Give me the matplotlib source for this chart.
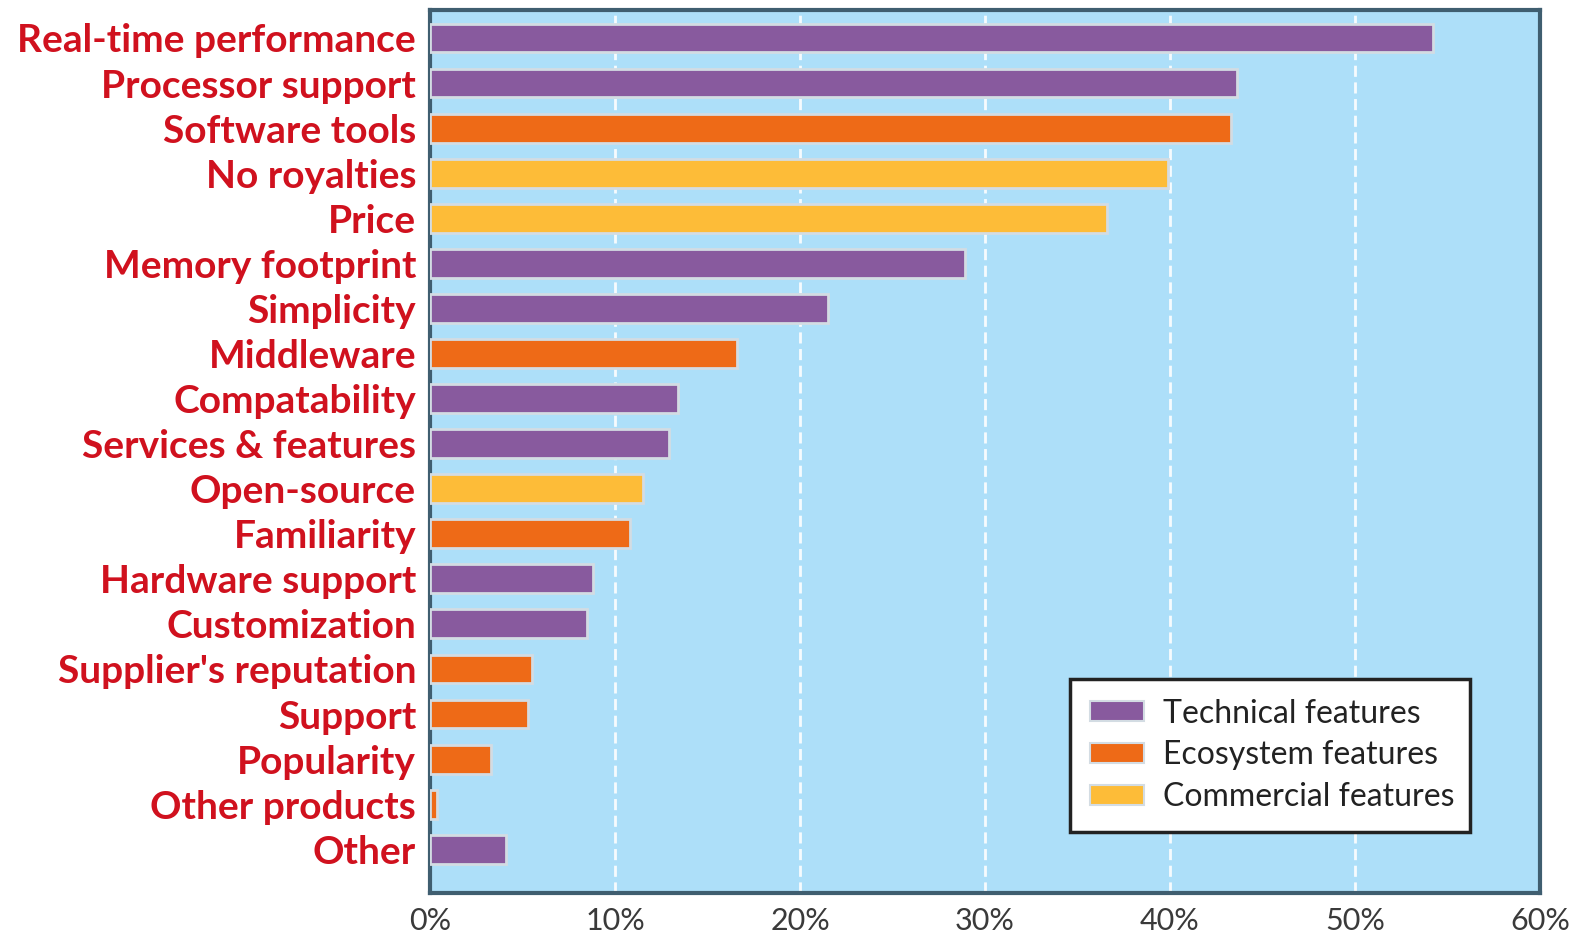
import matplotlib
matplotlib.use("Agg")
import matplotlib.pyplot as plt
from matplotlib.patches import Patch

categories = ["Real-time performance", "Processor support", "Software tools", "No royalties",
              "Price", "Memory footprint", "Simplicity", "Middleware", "Compatability",
              "Services & features", "Open-source", "Familiarity", "Hardware support",
              "Customization", "Supplier's reputation", "Support", "Popularity",
              "Other products", "Other"]
values = [54.2, 43.6, 43.3, 39.9, 36.6, 28.9, 21.5, 16.6, 13.4, 12.9, 11.5, 10.8,
          8.8, 8.5, 5.5, 5.3, 3.3, 0.4, 4.1]
groups = ["Technical", "Technical", "Ecosystem", "Commercial", "Commercial", "Technical",
          "Technical", "Ecosystem", "Technical", "Technical", "Commercial", "Ecosystem",
          "Technical", "Technical", "Ecosystem", "Ecosystem", "Ecosystem", "Ecosystem",
          "Technical"]
legend_labels = ["Technical features", "Ecosystem features", "Commercial features"]
x_ticks = [0, 10, 20, 30, 40, 50, 60]

colors = {"Technical": "#885A9E", "Ecosystem": "#EE6A17", "Commercial": "#FDBC38"}

fig = plt.figure(figsize=(15.76, 9.4), dpi=100)
ax = fig.add_axes([430 / 1576, 1 - 893 / 940, 1110 / 1576, 883 / 940])
ax.set_facecolor("#ADDFF9")

pos = list(range(len(categories)))
ax.barh(pos, values, height=0.64, color=[colors[g] for g in groups],
        edgecolor="#D3DCE3", linewidth=2, zorder=3)

ax.set_xlim(0, 60)
ax.set_ylim(18.97, -0.62)
ax.set_xticks(x_ticks)
ax.set_xticklabels([f"{t}%" for t in x_ticks], fontsize=22, color="#3a3a3a",
                   family="Lato")
ax.set_yticks(pos)
ax.set_yticklabels(categories, fontsize=28, color="#D0111E", fontweight="bold",
                   family="Lato")
ax.tick_params(axis="both", length=0)
ax.tick_params(axis="y", pad=10)
ax.tick_params(axis="x", pad=10)

for t in x_ticks[1:-1]:
    ax.axvline(t, color="white", linestyle=(0, (4, 2)), linewidth=2, zorder=1, alpha=0.9)

for s in ax.spines.values():
    s.set_color("#3F5E70")
    s.set_linewidth(3)

handles = [Patch(facecolor=colors[g], edgecolor="#D3DCE3", linewidth=1.5)
           for g in ["Technical", "Ecosystem", "Commercial"]]
leg = ax.legend(handles, legend_labels, loc="lower right",
                bbox_to_anchor=(1070 / 1576, 1 - 832 / 940, 400 / 1576, 153 / 940),
                bbox_transform=fig.transFigure, mode="expand",
                fontsize=23, frameon=True, fancybox=False, borderpad=0.62,
                handlelength=1.7, handleheight=0.6, labelspacing=0.37,
                handletextpad=0.6, borderaxespad=0)
leg.get_frame().set_edgecolor("#222222")
leg.get_frame().set_linewidth(2.5)
leg.get_frame().set_facecolor("white")
leg.get_frame().set_alpha(1)
for txt in leg.get_texts():
    txt.set_color("#222222")
    txt.set_family("Lato")

fig.savefig("out.png", dpi=100, facecolor="white")
